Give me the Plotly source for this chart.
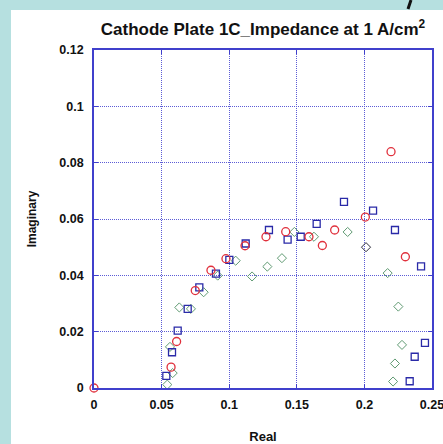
import plotly.graph_objects as go

# ---- data ----
red_x = [0.0, 0.057, 0.0611, 0.0749, 0.0865, 0.0976, 0.1117, 0.1272, 0.1418, 0.159, 0.1689, 0.178, 0.2007, 0.2197, 0.2303]
red_y = [0.0, 0.0074, 0.0165, 0.0346, 0.0418, 0.0459, 0.0505, 0.0537, 0.0555, 0.0537, 0.0506, 0.0561, 0.0607, 0.0839, 0.0466]

blue_x = [0.0535, 0.0577, 0.0619, 0.0693, 0.0779, 0.0902, 0.1001, 0.1122, 0.1294, 0.1432, 0.1529, 0.1647, 0.1849, 0.2064, 0.2226, 0.2419, 0.2448, 0.2372, 0.2335]
blue_y = [0.0043, 0.0127, 0.0204, 0.0281, 0.0357, 0.0406, 0.0455, 0.0513, 0.0561, 0.0527, 0.0537, 0.0583, 0.0661, 0.0630, 0.0561, 0.0432, 0.0160, 0.0111, 0.0024]

green_x = [0.0542, 0.0582, 0.0562, 0.0631, 0.0717, 0.0811, 0.0915, 0.1048, 0.1169, 0.1282, 0.139, 0.1482, 0.1627, 0.1876, 0.2172, 0.2251, 0.2278, 0.2226, 0.2212]
green_y = [0.0012, 0.0053, 0.0146, 0.0286, 0.0281, 0.0340, 0.0399, 0.0452, 0.0396, 0.0431, 0.0461, 0.0554, 0.0537, 0.0554, 0.0408, 0.0289, 0.0153, 0.0087, 0.0023]

dark_x = [0.2012]
dark_y = [0.0500]

x_ticks = [0, 0.05, 0.1, 0.15, 0.2, 0.25]
x_labels = ["0", "0.05", "0.1", "0.15", "0.2", "0.25"]
y_ticks = [0, 0.02, 0.04, 0.06, 0.08, 0.1, 0.12]
y_labels = ["0", "0.02", "0.04", "0.06", "0.08", "0.1", "0.12"]

W, H = 443, 444
L, R, T, B = 94, 11, 50, 56
pw, ph = W - L - R, H - T - B

FONT = "Liberation Sans, Arial, sans-serif"
FRAME = "#4040cc"
GRID = "#5c5cd6"

fig = go.Figure()

def add(xs, ys, sym, color, size, width, name):
    fig.add_trace(go.Scatter(
        x=xs, y=ys, mode="markers", name=name, cliponaxis=False,
        marker=dict(symbol=sym, size=size, color=color,
                    line=dict(color=color, width=width)),
    ))

add(green_x, green_y, "diamond-open", "#5f9a72", 7, 1.0, "green")
add(dark_x, dark_y, "diamond-open", "#2a2a3a", 7, 1.0, "dark")
add(blue_x, blue_y, "square-open", "#2a2aa8", 7, 1.3, "blue")
add(red_x, red_y, "circle-open", "#e0303c", 8, 1.3, "red")

def px2paper_x(p):
    return (p - L) / pw

def px2paper_y(p):
    return (H - B - p) / ph

shapes = [
    dict(type="rect", xref="paper", yref="paper", layer="below",
         x0=px2paper_x(0), x1=px2paper_x(11), y0=px2paper_y(H), y1=px2paper_y(0),
         fillcolor="#b6e0e0", line=dict(width=0)),
    dict(type="rect", xref="paper", yref="paper", layer="below",
         x0=px2paper_x(0), x1=px2paper_x(W), y0=px2paper_y(10), y1=px2paper_y(0),
         fillcolor="#b6e0e0", line=dict(width=0)),
    dict(type="line", xref="paper", yref="paper",
         x0=px2paper_x(408), x1=px2paper_x(411), y0=px2paper_y(9), y1=px2paper_y(0),
         line=dict(color="#111111", width=3)),
]

axis_common = dict(
    automargin=False,
    ticklabeloverflow="allow",
    showline=True, linecolor=FRAME, linewidth=1.6, mirror="ticks",
    showgrid=True, gridcolor=GRID, griddash="1px,1px", gridwidth=1,
    ticks="inside", ticklen=4, tickcolor=FRAME, tickwidth=1.2,
    zeroline=False,
    tickfont=dict(family=FONT, size=12.5, color="#111111", weight="bold"),
)

fig.update_layout(
    width=W, height=H,
    margin=dict(l=L, r=R, t=T, b=B, pad=0),
    paper_bgcolor="white", plot_bgcolor="white",
    showlegend=False,
    shapes=shapes,
    title=dict(text="Cathode Plate 1C_Impedance at 1 A/cm<sup>2</sup>",
               x=(L + pw / 2) / W, xanchor="center", y=1 - 29 / H, yanchor="middle",
               font=dict(family=FONT, size=17, color="#111111", weight="bold")),
    xaxis=dict(range=[0, 0.25], tickvals=x_ticks, ticktext=x_labels,
               ticklabelstandoff=4,
               title=dict(text="Real", standoff=26,
                          font=dict(family=FONT, size=13, color="#111111", weight="bold")),
               **axis_common),
    yaxis=dict(range=[0, 0.12], tickvals=y_ticks, ticktext=y_labels,
               ticklabelstandoff=6,
               title=dict(text="Imaginary", standoff=20,
                          font=dict(family=FONT, size=12, color="#111111", weight="bold")),
               **axis_common),
)

fig.write_html("out.html")
